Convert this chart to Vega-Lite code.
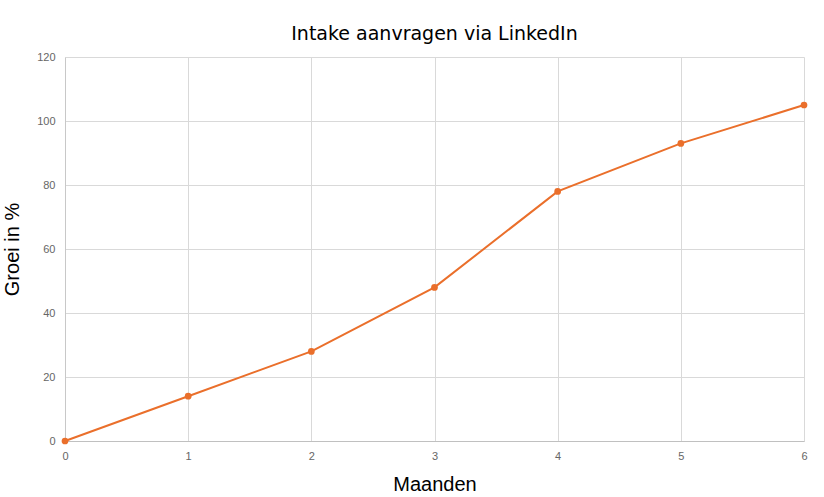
{
  "$schema": "https://vega.github.io/schema/vega-lite/v6.json",
  "autosize": "none",
  "width": 739,
  "height": 384,
  "padding": {"left": 65, "top": 57, "right": 20, "bottom": 56},
  "background": "white",
  "title": {"text": "Intake aanvragen via LinkedIn", "font": "DejaVu Sans", "fontSize": 19, "fontWeight": "normal", "color": "#000000", "offset": 7, "anchor": "middle"},
  "data": {"values": [
    {"maand": 0, "groei": 0},
    {"maand": 1, "groei": 14},
    {"maand": 2, "groei": 28},
    {"maand": 3, "groei": 48},
    {"maand": 4, "groei": 78},
    {"maand": 5, "groei": 93},
    {"maand": 6, "groei": 105}
  ]},
  "config": {"view": {"stroke": null}},
  "mark": {"type": "line", "color": "#ea6f2b", "strokeWidth": 2, "point": {"filled": true, "size": 45, "color": "#ea6f2b"}},
  "encoding": {
    "x": {"field": "maand", "type": "quantitative", "title": "Maanden",
      "scale": {"domain": [0, 6], "nice": false},
      "axis": {"values": [0,1,2,3,4,5,6], "grid": true, "gridColor": "#d9d9d9", "domainColor": "#c0c0c0", "ticks": false, "labelFlush": false, "labelPadding": 9, "labelFont": "Liberation Sans", "labelFontSize": 11, "labelColor": "#666666", "titleFont": "Liberation Sans", "titleFontSize": 20, "titleFontWeight": "normal", "titleColor": "#000000", "titlePadding": 13}},
    "y": {"field": "groei", "type": "quantitative", "title": "Groei in %",
      "scale": {"domain": [0, 120], "nice": false},
      "axis": {"values": [0,20,40,60,80,100,120], "grid": true, "gridColor": "#d9d9d9", "domainColor": "#c8c8c8", "ticks": false, "labelPadding": 10, "labelFont": "Liberation Sans", "labelFontSize": 11, "labelColor": "#666666", "titleFont": "Liberation Sans", "titleFontSize": 20, "titleFontWeight": "normal", "titleColor": "#000000", "titlePadding": 14}}
  }
}
